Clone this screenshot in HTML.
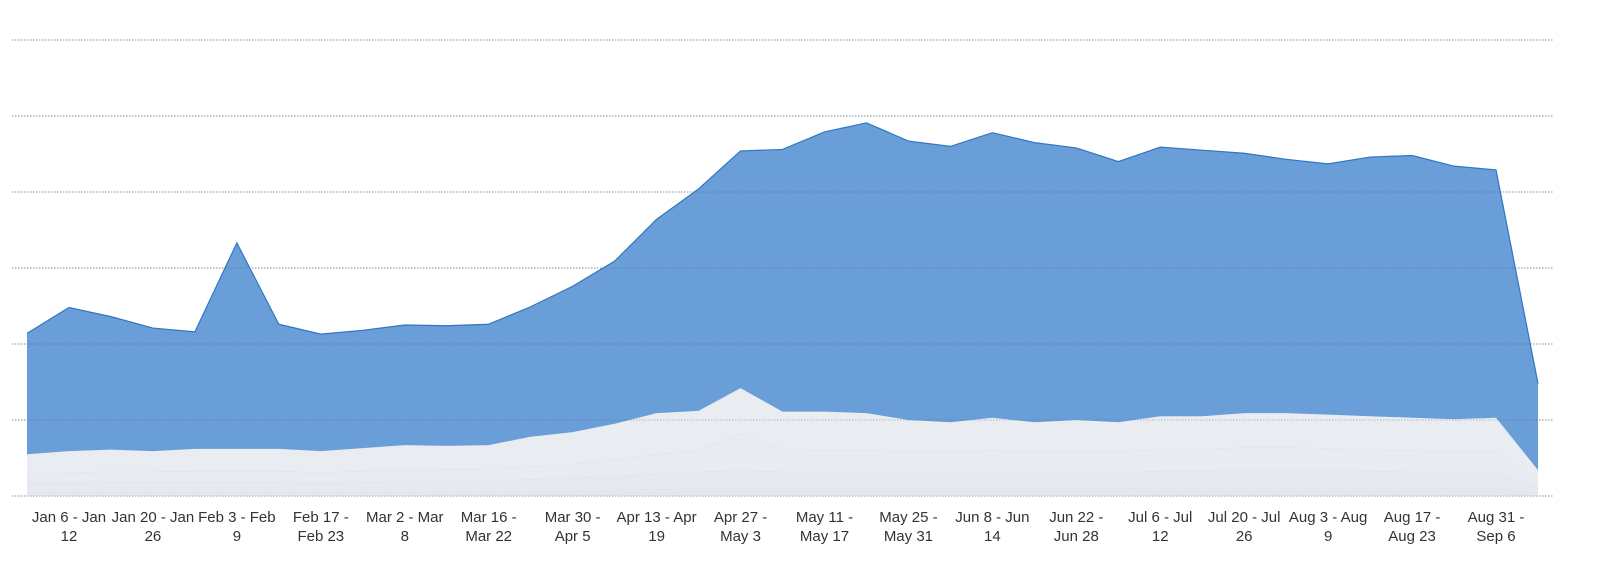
<!DOCTYPE html>
<html><head><meta charset="utf-8"><style>
html,body{margin:0;padding:0;background:#fff;}
svg{display:block;font-family:"Liberation Sans",sans-serif;}
</style></head><body>
<svg id="chart" width="1600" height="576" xmlns="http://www.w3.org/2000/svg">
<g id="grid"></g>
<g id="areas"></g>
<g id="gridTop"></g>
<g id="xaxis"></g>
</svg>
<script>
const weekLabels1 = ["Dec 30 -","Jan 6 - Jan","Jan 13 -","Jan 20 - Jan","Jan 27 -","Feb 3 - Feb","Feb 10 -","Feb 17 -","Feb 24 -","Mar 2 - Mar","Mar 9 -","Mar 16 -","Mar 23 -","Mar 30 -","Apr 6 -","Apr 13 - Apr","Apr 20 -","Apr 27 -","May 4 -","May 11 -","May 18 -","May 25 -","Jun 1 -","Jun 8 - Jun","Jun 15 -","Jun 22 -","Jun 29 -","Jul 6 - Jul","Jul 13 -","Jul 20 - Jul","Jul 27 -","Aug 3 - Aug","Aug 10 -","Aug 17 -","Aug 24 -","Aug 31 -","Sep 7 -"];
const weekLabels2 = ["Jan 5","12","Jan 19","26","Feb 2","9","Feb 16","Feb 23","Mar 1","8","Mar 15","Mar 22","Mar 29","Apr 5","Apr 12","19","Apr 26","May 3","May 10","May 17","May 24","May 31","Jun 7","14","Jun 21","Jun 28","Jul 5","12","Jul 19","26","Aug 2","9","Aug 16","Aug 23","Aug 30","Sep 6","Sep 13"];
const series1 = [5,5,5,5,5,5,5,5,5,5,6,6,6,7,8,9,10,10,10,10,10,10,10,10,10,10,10,11,11,12,12,12,11,11,10,10,4];
const series2 = [12,12,13,13,13,13,13,12,13,14,14,15,16,17,18,20,22,24,22,22,22,22,21,22,21,21,21,22,22,22,22,22,22,21,21,21,6];
const series3 = [13,14,14,14,15,15,15,14,15,15,15,15,17,18,22,26,28,48,30,28,28,27,27,28,27,28,28,28,29,30,30,29,28,28,27,28,8];
const series4 = [25,28,29,27,29,29,29,28,30,33,31,31,39,42,47,54,52,60,49,51,49,41,39,43,39,41,38,44,43,45,45,44,44,43,43,44,16];
const series5 = [159,189,175,162,154,271,164,154,155,158,158,159,171,192,214,255,292,312,345,368,382,367,363,375,368,358,343,354,350,342,334,330,341,345,333,326,114];
const yTicks = [0,100,200,300,400,500,600];

const NS="http://www.w3.org/2000/svg";
const x0=27, x1=1538, yBase=496, yPer=0.76;
const n=series1.length;
const X=i=>x0+(x1-x0)*i/(n-1);
const Y=v=>yBase-v*yPer;
function mk(tag,attrs,parent){const e=document.createElementNS(NS,tag);for(const k in attrs)e.setAttribute(k,attrs[k]);parent.appendChild(e);return e;}

const grid=document.getElementById('grid'), gridTop=document.getElementById('gridTop');
yTicks.forEach(t=>{
  const l=mk('line',{x1:12,x2:1553,y1:Y(t),y2:Y(t),stroke:'#aaa','stroke-width':1,'stroke-dasharray':'1.5,1.5'},grid);
  
  
  const l2=mk('line',{x1:12,x2:1553,y1:Y(t),y2:Y(t),stroke:'rgba(60,90,130,0.35)','stroke-width':1,'stroke-dasharray':'1.5,1.5'},gridTop);
  
  
});

const all=[series1,series2,series3,series4,series5];
const fills=['#e4e8ed','#e6eaef','#e8ecf0','#e9edf1','#6a9ed8'];
const strokes=['#dfe4ea','#dde2e8','#dde2e8','#e9edf1','#2f77c2'];
const names=['series-1-area','series-2-area','series-3-area','series-4-area','series-5-area'];
const areas=document.getElementById('areas');
let cum=new Array(n).fill(0);
all.forEach((s,k)=>{
  const lo=cum.slice(); const hi=cum.map((c,i)=>c+s[i]);
  let d='M'+X(0)+','+Y(hi[0]);
  for(let i=1;i<n;i++) d+='L'+X(i)+','+Y(hi[i]);
  for(let i=n-1;i>=0;i--) d+='L'+X(i)+','+Y(lo[i]);
  d+='Z';
  const p=mk('path',{d:d,fill:fills[k]},areas);
  
  
  let ld='M'+X(0)+','+Y(hi[0]);
  for(let i=1;i<n;i++) ld+='L'+X(i)+','+Y(hi[i]);
  const ln=mk('path',{d:ld,fill:'none',stroke:strokes[k],'stroke-width':k==4?1.2:1},areas);
  
  
  cum=hi;
});

const xa=document.getElementById('xaxis');
for(let i=1;i<n;i+=2){
  const t=mk('text',{x:X(i),y:522,'text-anchor':'middle','font-size':15,fill:'#333'},xa);
  
  
  const a=mk('tspan',{x:X(i),dy:0},t); a.textContent=weekLabels1[i];
  const b=mk('tspan',{x:X(i),dy:19},t); b.textContent=weekLabels2[i];
}
</script>
</body></html>
